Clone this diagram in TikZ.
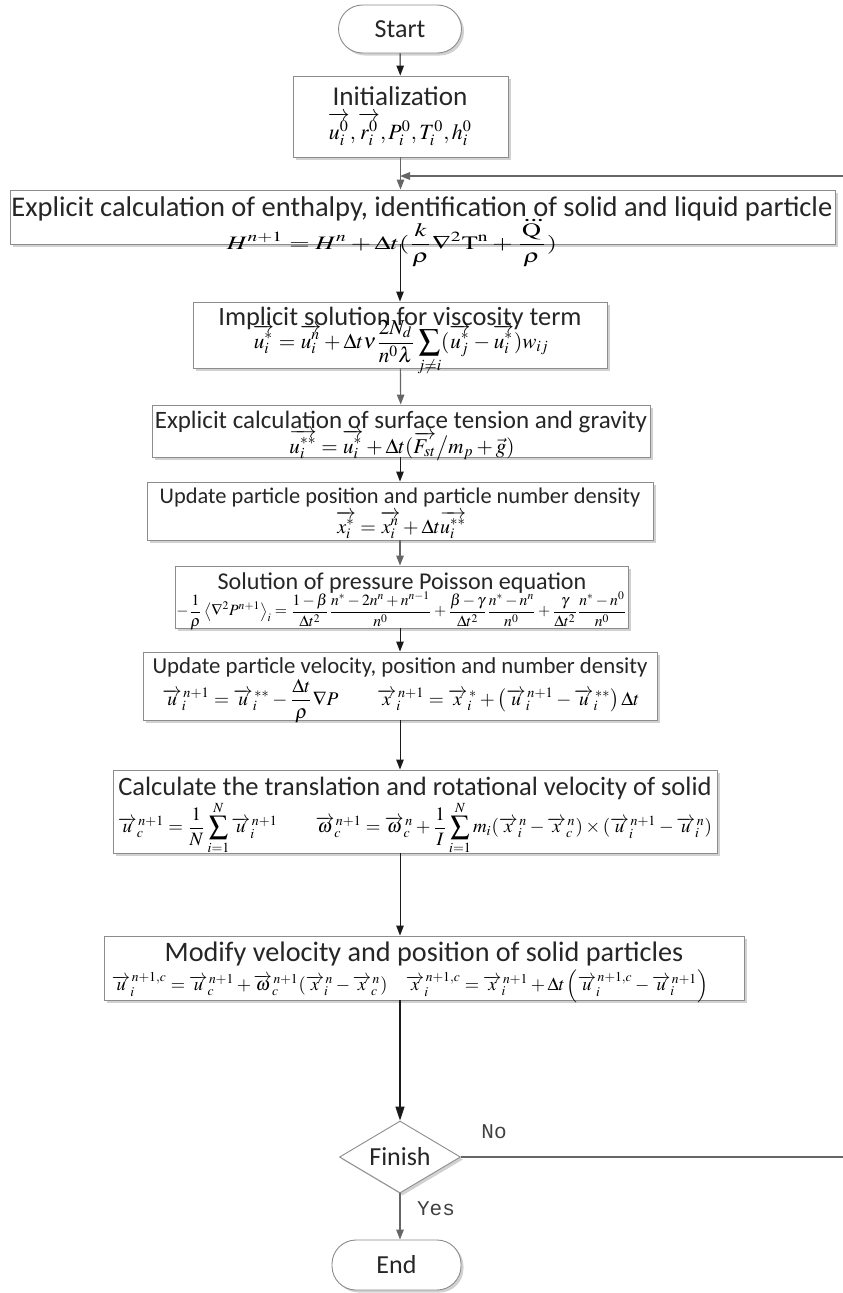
\documentclass[tikz,border=0pt]{standalone}
\usepackage{amsmath}
\usepackage{mathptmx}
\usepackage[no-math]{fontspec}
\setmainfont{Carlito}
\newfontfamily\lblfont{Liberation Mono}
\usetikzlibrary{shapes.geometric,shadows,arrows.meta}
\definecolor{boxgray}{HTML}{8C8C8C}
\definecolor{linegray}{HTML}{666666}
\definecolor{lineblack}{HTML}{1A1A1A}
\newcommand{\fs}[1]{\fontsize{#1}{#1}\selectfont}
\newcommand{\trmfont}{\fontsize{26}{28}\selectfont}
\newcommand{\va}[1]{\overrightarrow{#1}}
\tikzset{
  box/.style={draw=boxgray, line width=0.9pt, fill=white,
    drop shadow={shadow xshift=2.5pt, shadow yshift=-2.5pt, fill=black, opacity=0.18}},
  term/.style={box, rounded corners=24pt, font=\trmfont, text=black!85},
  ttl/.style={inner sep=0pt, anchor=base, text=black!85},
  frm/.style={inner sep=0pt, anchor=center},
  arr/.style={draw=lineblack, line width=1pt, -{Triangle[length=10pt,width=7.5pt]}},
  arrg/.style={draw=linegray, line width=1.2pt, -{Triangle[length=10pt,width=7.5pt]}},
  lbl/.style={font=\lblfont\fontsize{21}{23}\selectfont, text=black!75}
}
\begin{document}
\begin{tikzpicture}[x=1pt,y=-1pt]
\useasboundingbox (0,0) rectangle (843,1293);
% boxes
\node[term, minimum width=123pt, minimum height=48pt] (start) at (400,29) {Start};
\node[box, minimum width=215pt, minimum height=81pt] (init) at (400.5,116.5) {};
\node[box, minimum width=825pt, minimum height=54pt] (enth) at (422.5,217) {};
\node[box, minimum width=414pt, minimum height=66pt] (impl) at (400,335) {};
\node[box, minimum width=498pt, minimum height=52pt] (surf) at (401,431) {};
\node[box, minimum width=506pt, minimum height=58pt] (upd) at (400,511) {};
\node[box, minimum width=453pt, minimum height=62pt] (pois) at (401.5,597) {};
\node[box, minimum width=514pt, minimum height=68pt] (vel) at (400,686) {};
\node[box, minimum width=604pt, minimum height=83pt] (calc) at (415,811.5) {};
\node[box, minimum width=640pt, minimum height=64pt] (modi) at (424,968) {};
\node[box, diamond, minimum width=121pt, minimum height=72pt, aspect=1.68, inner sep=0pt, font=\trmfont, text=black!85] (fin) at (400,1157) {Finish};
\node[term, minimum width=129pt, minimum height=50pt] (end) at (396.5,1265) {End};

% texts
\node[ttl, font=\fs{27.2}] (initT) at (400,105) {Initialization};
\node[frm] (initF) at (400,129) {\resizebox{144pt}{!}{$\va{u_i^0},\va{r_i^0},P_i^0,T_i^0,h_i^0$}};

\node[ttl, font=\fs{28.5}] (enthT) at (422,216) {Explicit calculation of enthalpy, identification of solid and liquid particle};
\node[frm] (enthF) at (392,244) {\resizebox*{330pt}{46pt}{$\displaystyle H^{n+1}=H^n+\Delta t(\frac{k}{\rho}\nabla^2\mathrm{T}^{\mathrm{n}}+\frac{\dddot{\mathrm{Q}}}{\rho})$}};

\node[ttl, font=\fs{26.4}] (implT) at (400,325) {Implicit solution for viscosity term};
\node[frm] (implF) at (401,348) {\resizebox{296pt}{!}{$\displaystyle \va{u_i^*}=\va{u_i^n}+\Delta t\nu\frac{2N_d}{n^0\lambda}\sum_{j\neq i}(\va{u_j^*}-\va{u_i^*})w_{ij}$}};

\node[ttl, font=\fs{25}] (surfT) at (401,428) {Explicit calculation of surface tension and gravity};
\node[frm] (surfF) at (402,445) {\resizebox{225pt}{!}{$\displaystyle \va{u_i^{**}}=\va{u_i^*}+\Delta t(\va{F_{st}}\big/m_p+\vec{g})$}};

\node[ttl, font=\fs{22.4}] (updT) at (400,503) {Update particle position and particle number density};
\node[frm] (updF) at (401,525) {\resizebox{130pt}{!}{$\displaystyle \va{x_i^*}=\va{x_i^n}+\Delta t\va{u_i^{**}}$}};

\node[ttl, font=\fs{24.1}] (poisT) at (402,589) {Solution of pressure Poisson equation};
\node[frm] (poisF) at (401.5,611) {\resizebox{450pt}{!}{$\displaystyle -\frac{1}{\rho}\left\langle\nabla^2P^{n+1}\right\rangle_i=\frac{1-\beta}{\Delta t^2}\frac{n^*-2n^n+n^{n-1}}{n^0}+\frac{\beta-\gamma}{\Delta t^2}\frac{n^*-n^n}{n^0}+\frac{\gamma}{\Delta t^2}\frac{n^*-n^0}{n^0}$}};

\node[ttl, font=\fs{22.8}] (velT) at (400,673) {Update particle velocity, position and number density};
\node[frm] (velF) at (401,701) {\resizebox{477pt}{!}{$\displaystyle \va{u}_i^{\,n+1}=\va{u}_i^{\,**}-\frac{\Delta t}{\rho}\nabla P\qquad \va{x}_i^{\,n+1}=\va{x}_i^{\,*}+\left(\va{u}_i^{\,n+1}-\va{u}_i^{\,**}\right)\Delta t$}};

\node[ttl, font=\fs{26.5}] (calcT) at (415,795) {Calculate the translation and rotational velocity of solid};
\node[frm] (calcF) at (415,828) {\resizebox{594pt}{!}{$\displaystyle \va{u}_c^{\,n+1}=\frac{1}{N}\sum_{i=1}^{N}\va{u}_i^{\,n+1}\qquad \va{\omega}_c^{\,n+1}=\va{\omega}_c^{\,n}+\frac{1}{I}\sum_{i=1}^{N}m_i(\va{x}_i^{\,n}-\va{x}_c^{\,n})\times(\va{u}_i^{\,n+1}-\va{u}_i^{\,n})$}};

\node[ttl, font=\fs{28.2}] (modiT) at (424,961) {Modify velocity and position of solid particles};
\node[frm] (modiF) at (410,986) {\resizebox{596pt}{!}{$\displaystyle \va{u}_i^{\,n+1,c}=\va{u}_c^{\,n+1}+\va{\omega}_c^{\,n+1}(\va{x}_i^{\,n}-\va{x}_c^{\,n})\quad \va{x}_i^{\,n+1,c}=\va{x}_i^{\,n+1}+\Delta t\left(\va{u}_i^{\,n+1,c}-\va{u}_i^{\,n+1}\right)$}};

% connectors
\coordinate (join) at (400,176);
\coordinate (loopB) at (848,1157);
\coordinate (loopT) at (848,176);
\draw[arr] (start) -- (init);
\draw[arrg] (init.south) -- (init.south |- enth.north);
\draw[arr] (enth.south -| impl.north) -- (impl.north);
\draw[arrg] (impl) -- (surf);
\draw[arr] (surf.south -| upd.north) -- (upd.north);
\draw[arrg] (upd) -- (pois.north -| upd.north);
\draw[arr] (pois.south -| vel.north) -- (vel.north);
\draw[arr] (vel.south) -- (vel.south |- calc.north);
\draw[arr] (calc.south -| vel.south) -- (vel.south |- modi.north);
\draw[arr, line width=1.4pt, -{Triangle[length=14pt,width=9pt]}] (modi.south -| fin.north) -- (fin.north);
\draw[arrg] (fin.south) -- (fin.south |- end.north);
\draw[arrg, line width=1.6pt] (fin.east) -- (loopB) -- (loopT) -- (join);
\node[lbl] (no) at (494,1132) {No};
\node[lbl] (yes) at (436,1209) {Yes};
\end{tikzpicture}
\end{document}
